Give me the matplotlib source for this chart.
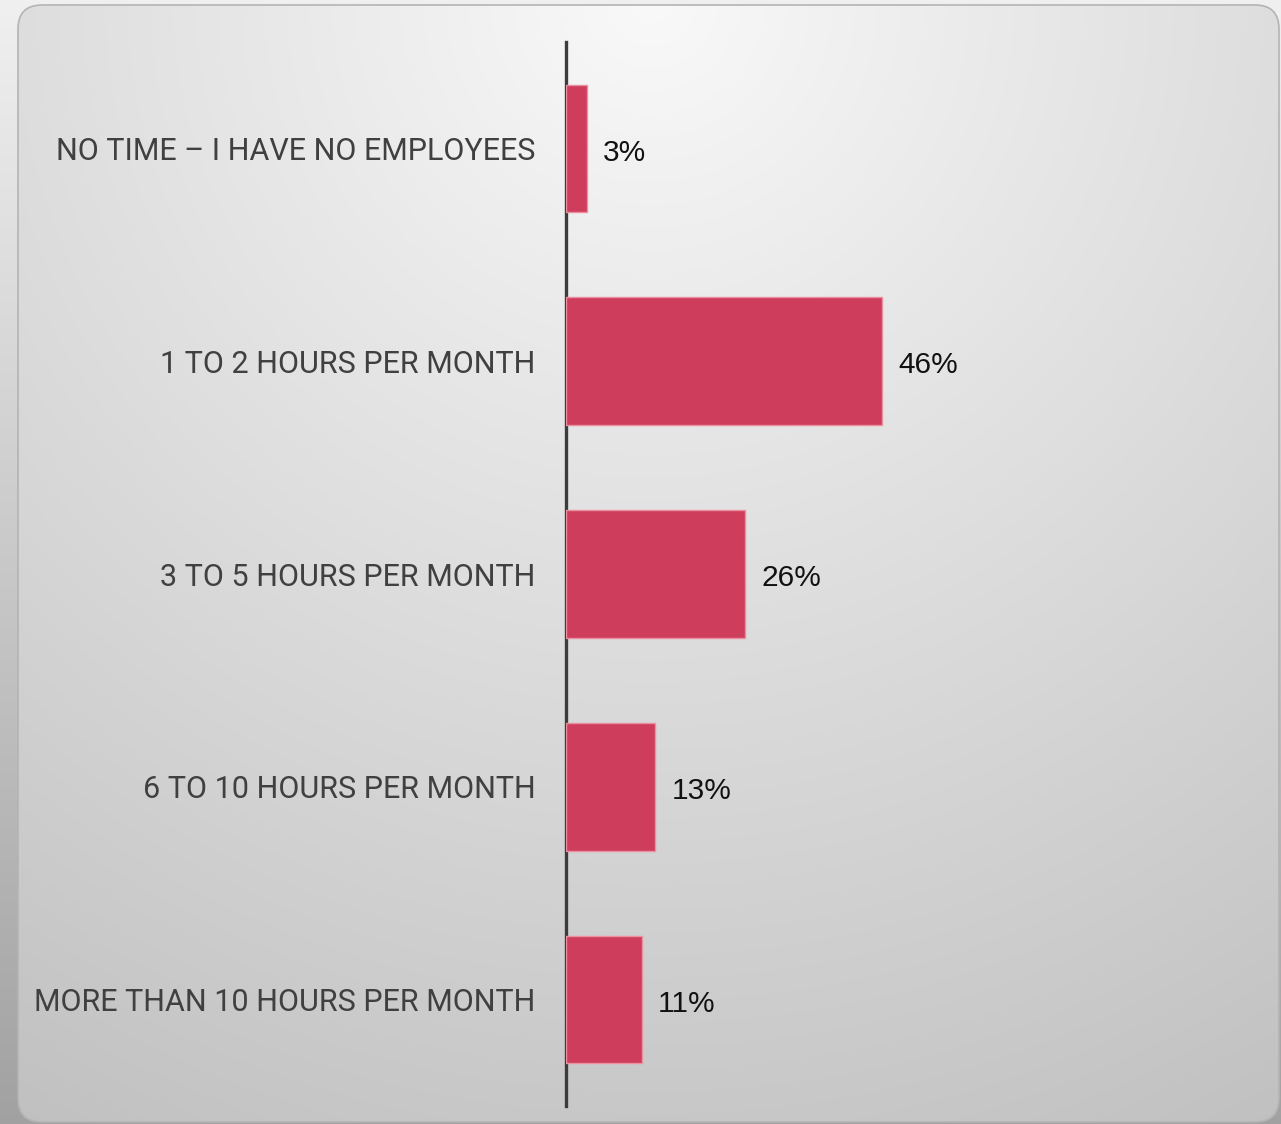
import numpy as np
import matplotlib.pyplot as plt
from matplotlib.patches import FancyBboxPatch

categories = [
    'NO TIME – I HAVE NO EMPLOYEES',
    '1 TO 2 HOURS PER MONTH',
    '3 TO 5 HOURS PER MONTH',
    '6 TO 10 HOURS PER MONTH',
    'MORE THAN 10 HOURS PER MONTH',
]
values = [3, 46, 26, 13, 11]
value_labels = ['3%', '46%', '26%', '13%', '11%']

W, H = 1281, 1124
fig = plt.figure(figsize=(W / 100, H / 100), dpi=100)

# backdrop outside the panel
bg = fig.add_axes([0, 0, 1, 1])
bg.set_xlim(0, W)
bg.set_ylim(H, 0)
bg.axis('off')
yy, xx = np.mgrid[0:H, 0:W]
outside = 240 - 0.07 * yy
bg.imshow(np.dstack([outside] * 3) / 255, extent=(0, W, H, 0), aspect='auto', zorder=0)

# rounded panel with soft radial gradient
d = np.hypot(xx - 650, yy - 0)
shade = np.clip(249 - 0.044 * d, 0, 255)
panel_img = bg.imshow(np.dstack([shade] * 3) / 255, extent=(0, W, H, 0), aspect='auto', zorder=1)
panel = FancyBboxPatch((18, 5), 1261, 1117, boxstyle='round,pad=0,rounding_size=24',
                       facecolor='none', edgecolor='#b4b4b4', linewidth=1.2, zorder=2)
bg.add_patch(panel)
panel_img.set_clip_path(panel)

# bar chart
ax = fig.add_axes([566 / W, 1 - 1106 / H, 687 / W, 1064 / H])
ax.patch.set_alpha(0)
y = np.arange(len(categories))
ax.barh(y, values, height=0.6, color='#ce3e5c', edgecolor='#ea8fa0', linewidth=1.0, zorder=3)
ax.set_xlim(0, 100)
ax.set_ylim(len(categories) - 0.5, -0.5)
ax.set_yticks(y)
ax.set_yticklabels(categories, fontsize=22, color='#404040', family='Roboto')
ax.tick_params(axis='y', length=0, pad=22)
ax.set_xticks([])
for s in ['top', 'right', 'bottom']:
    ax.spines[s].set_visible(False)
ax.spines['left'].set_color('#3c3c3c')
ax.spines['left'].set_linewidth(2.4)

for yi, v, lab in zip(y, values, value_labels):
    ax.text(v + 2.4, yi + 0.02, lab, va='center', ha='left', fontsize=21.5,
            family='Liberation Sans', color='#111111')

fig.savefig('out.png', dpi=100)
